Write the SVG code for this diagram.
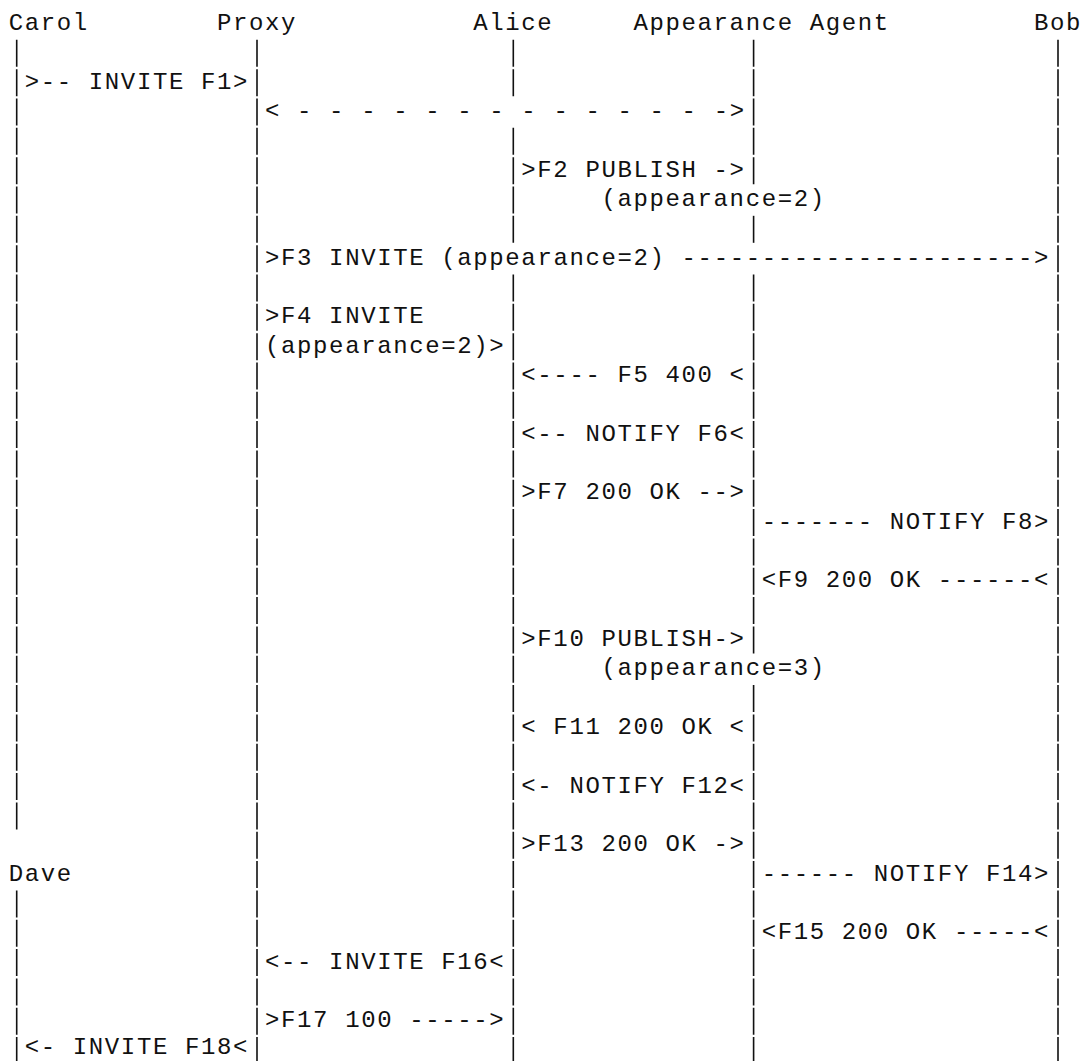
<svg xmlns="http://www.w3.org/2000/svg" width="1084" height="1061" viewBox="0 0 1084 1061">
  <style>
    text { font-family: "Liberation Mono", "DejaVu Sans Mono", monospace; font-size: 24px; letter-spacing: 1.62px; fill: #111; white-space: pre; }
    .life { stroke: #111; stroke-width: 1.6; stroke-dasharray: 27 2.33; fill: none; }
  </style>
  <rect width="1084" height="1061" fill="#fff"/>
  <g id="carol">
    <text x="8.7" y="30">Carol</text>
    <line class="life" x1="16.7" y1="39.83" x2="16.7" y2="829.41"/>
  </g>
  <g id="dave">
    <text x="8.7" y="880.57">Dave</text>
    <line class="life" x1="16.7" y1="890.4" x2="16.7" y2="1064.05"/>
  </g>
  <g id="proxy">
    <text x="216.96" y="30">Proxy</text>
    <line class="life" x1="257" y1="39.83" x2="257" y2="1064.05"/>
  </g>
  <g id="alice">
    <text x="473.28" y="30">Alice</text>
    <line class="life" x1="513.3" y1="39.83" x2="513.3" y2="96.16"/>
    <line class="life" x1="513.3" y1="127.82" x2="513.3" y2="242.81"/>
    <line class="life" x1="513.3" y1="274.47" x2="513.3" y2="1064.05"/>
  </g>
  <g id="appearance-agent">
    <text x="633.48" y="30">Appearance Agent</text>
    <line class="life" x1="753.6" y1="39.83" x2="753.6" y2="184.15"/>
    <line class="life" x1="753.6" y1="215.81" x2="753.6" y2="242.81"/>
    <line class="life" x1="753.6" y1="274.47" x2="753.6" y2="653.43"/>
    <line class="life" x1="753.6" y1="685.09" x2="753.6" y2="1064.05"/>
  </g>
  <g id="bob">
    <text x="1034" y="30">Bob</text>
    <line class="life" x1="1058" y1="39.83" x2="1058" y2="1064.05"/>
  </g>
  <g id="connectors">
    <text x="24.72" y="88.66">&gt;-- INVITE F1&gt;</text>
    <text x="265.02" y="117.99">&lt; - - - - - - - - - - - - - -&gt;</text>
    <text x="521.34" y="176.65">&gt;F2 PUBLISH -&gt;</text>
    <text x="601.44" y="205.98">(appearance=2)</text>
    <text x="265.02" y="264.64">&gt;F3 INVITE (appearance=2) ----------------------&gt;</text>
    <text x="265.02" y="323.3">&gt;F4 INVITE</text>
    <text x="265.02" y="352.63">(appearance=2)&gt;</text>
    <text x="521.34" y="381.96">&lt;---- F5 400 &lt;</text>
    <text x="521.34" y="440.62">&lt;-- NOTIFY F6&lt;</text>
    <text x="521.34" y="499.28">&gt;F7 200 OK --&gt;</text>
    <text x="761.64" y="528.61">------- NOTIFY F8&gt;</text>
    <text x="761.64" y="587.27">&lt;F9 200 OK ------&lt;</text>
    <text x="521.34" y="645.93">&gt;F10 PUBLISH-&gt;</text>
    <text x="601.44" y="675.26">(appearance=3)</text>
    <text x="521.34" y="733.92">&lt; F11 200 OK &lt;</text>
    <text x="521.34" y="792.58">&lt;- NOTIFY F12&lt;</text>
    <text x="521.34" y="851.24">&gt;F13 200 OK -&gt;</text>
    <text x="761.64" y="880.57">------ NOTIFY F14&gt;</text>
    <text x="761.64" y="939.23">&lt;F15 200 OK -----&lt;</text>
    <text x="265.02" y="968.56">&lt;-- INVITE F16&lt;</text>
    <text x="265.02" y="1027.22">&gt;F17 100 -----&gt;</text>
    <text x="24.72" y="1053.6">&lt;- INVITE F18&lt;</text>
  </g>
</svg>
